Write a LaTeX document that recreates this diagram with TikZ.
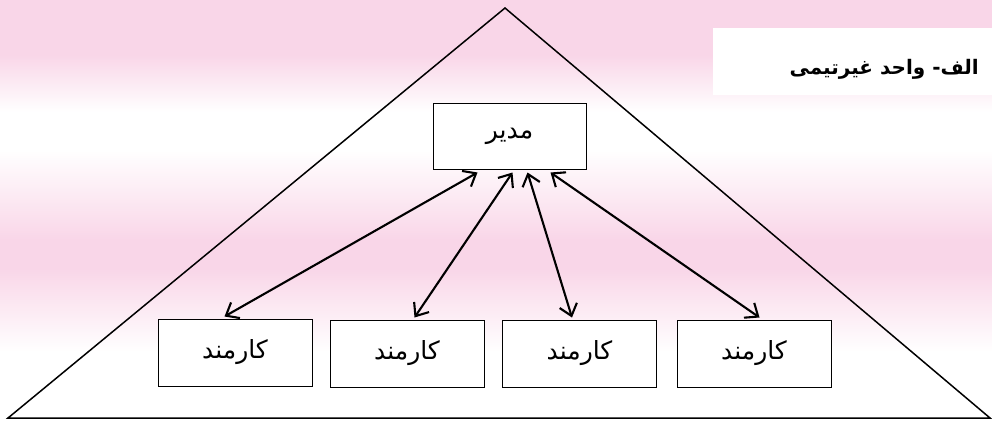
\documentclass[tikz,border=0pt]{standalone}
\usepackage{fontspec}
\TeXXeTstate=1
\newfontfamily\arabicfont[Script=Arabic]{DejaVu Sans}
\usetikzlibrary{arrows.meta}
\definecolor{bgpink}{RGB}{249,214,232}
\tikzset{
  box/.style={draw=black, fill=white, line width=1pt, minimum width=154pt, minimum height=67pt, inner sep=0pt, font=\arabicfont\fontsize{25}{30}\selectfont},
  link/.style={line width=2.1pt, {Straight Barb[length=11pt,width=18pt,line width=2.1pt]}-{Straight Barb[length=11pt,width=18pt,line width=2.1pt]}},
}
\begin{document}
\begin{tikzpicture}[x=1pt,y=-1pt]
\useasboundingbox (0,0) rectangle (992,421);
% background bands
\fill[bgpink] (0,0) rectangle (992,55);
\shade[top color=bgpink, bottom color=white] (0,55) rectangle (992,112);
\fill[white] (0,112) rectangle (992,150);
\shade[top color=white, bottom color=bgpink] (0,150) rectangle (992,240);
\fill[bgpink] (0,240) rectangle (992,268);
\shade[top color=bgpink, bottom color=white] (0,268) rectangle (992,352);
\fill[white] (0,352) rectangle (992,421);
% title panel
\fill[white] (713,28) rectangle (992,95);
\node[anchor=east, inner sep=0pt, font=\arabicfont\bfseries\fontsize{20}{24}\selectfont] (title) at (979,69) {\beginR الف- واحد غیرتیمی\endR};
% triangle
\draw[line width=1.5pt, line join=miter] (505,8) -- (990,418) -- (8,418) -- cycle;
% boxes
\node[box, minimum width=153pt, minimum height=66pt] (mgr) at (509.5,136) {\beginR مدیر\endR};
\node[box] (e1) at (235,352.5) {\beginR کارمند\endR};
\node[box] (e2) at (407,353.5) {\beginR کارمند\endR};
\node[box] (e3) at (579.5,353.5) {\beginR کارمند\endR};
\node[box] (e4) at (754,353.5) {\beginR کارمند\endR};
% arrows
\draw[link] ([xshift=45pt,yshift=-3pt]mgr.south west) -- ([xshift=67pt,yshift=2pt]e1.north west);
\draw[link] ([xshift=80pt,yshift=-3pt]mgr.south west) -- ([xshift=85pt,yshift=2pt]e2.north west);
\draw[link] ([xshift=95pt,yshift=-3pt]mgr.south west) -- ([xshift=70pt,yshift=2pt]e3.north west);
\draw[link] ([xshift=118pt,yshift=-3pt]mgr.south west) -- ([xshift=83pt,yshift=2pt]e4.north west);
\end{tikzpicture}
\end{document}
